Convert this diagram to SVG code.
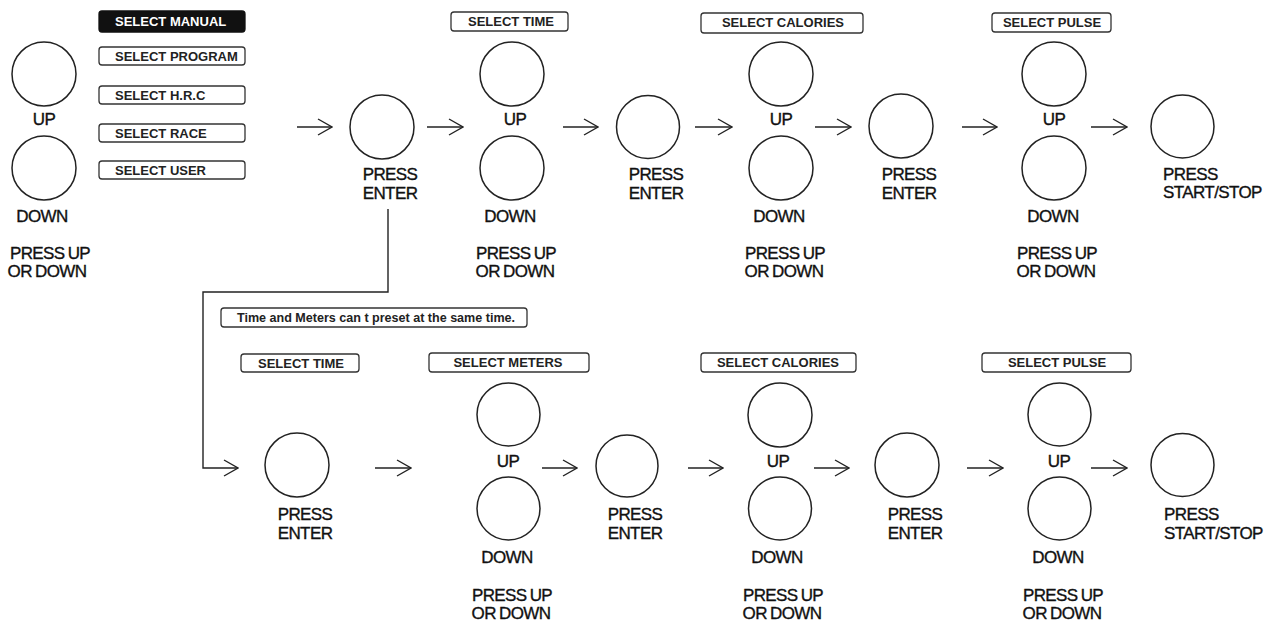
<svg xmlns="http://www.w3.org/2000/svg" width="1274" height="624" viewBox="0 0 1274 624">
<style>
.c{fill:none;stroke:#222;stroke-width:1.5}
.b{fill:#fff;stroke:#333;stroke-width:1.3}
.bk{fill:#111;stroke:#111;stroke-width:1.3}
.t{font-family:"Liberation Sans",Arial,sans-serif;font-size:17px;fill:#111;stroke:#111;stroke-width:0.35;letter-spacing:-0.6px;word-spacing:-1px;text-anchor:middle}
.ts{text-anchor:start}
.s{font-family:"Liberation Sans",Arial,sans-serif;font-size:13px;font-weight:bold;fill:#222;text-anchor:middle}
.sl{text-anchor:start}
.n{font-family:"Liberation Sans",Arial,sans-serif;font-size:12px;font-weight:bold;fill:#222}
.ln{fill:none;stroke:#222;stroke-width:1.4}
</style>
<defs>
<marker id="chev" viewBox="0 0 16 18" refX="15" refY="9" markerWidth="16" markerHeight="18" markerUnits="userSpaceOnUse" orient="auto">
<path d="M1,1 L15,9 L1,17" fill="none" stroke="#222" stroke-width="1.4"/>
</marker>
</defs>

<g id="connectors">
<line class="ln" x1="297" y1="127" x2="332" y2="127" marker-end="url(#chev)"/>
<line class="ln" x1="427" y1="127" x2="463" y2="127" marker-end="url(#chev)"/>
<line class="ln" x1="563" y1="127" x2="598" y2="127" marker-end="url(#chev)"/>
<line class="ln" x1="695" y1="127" x2="732" y2="127" marker-end="url(#chev)"/>
<line class="ln" x1="815" y1="127" x2="851" y2="127" marker-end="url(#chev)"/>
<line class="ln" x1="962" y1="127" x2="997" y2="127" marker-end="url(#chev)"/>
<line class="ln" x1="1091" y1="127" x2="1127" y2="127" marker-end="url(#chev)"/>
<path class="ln" d="M388,209 V292 H203 V468 H238" marker-end="url(#chev)"/>
<line class="ln" x1="375" y1="468" x2="411" y2="468" marker-end="url(#chev)"/>
<line class="ln" x1="542" y1="468" x2="577" y2="468" marker-end="url(#chev)"/>
<line class="ln" x1="688" y1="468" x2="723" y2="468" marker-end="url(#chev)"/>
<line class="ln" x1="814" y1="468" x2="849" y2="468" marker-end="url(#chev)"/>
<line class="ln" x1="967" y1="468" x2="1003" y2="468" marker-end="url(#chev)"/>
<line class="ln" x1="1091" y1="468" x2="1127" y2="468" marker-end="url(#chev)"/>
</g>

<g id="start-updown">
<circle class="c" cx="44" cy="74" r="32"/>
<circle class="c" cx="44" cy="168" r="32"/>
<text class="t" x="44" y="125">UP</text>
<text class="t" x="42" y="222">DOWN</text>
<text class="t" x="50" y="259">PRESS UP</text>
<text class="t" x="47" y="277">OR DOWN</text>
</g>

<g id="program-menu">
<rect class="bk" x="99" y="11" width="146" height="21" rx="3"/>
<text class="s sl" x="115" y="26" style="fill:#fff">SELECT MANUAL</text>
<rect class="b" x="99" y="47" width="146" height="18" rx="3"/>
<text class="s sl" x="115" y="61">SELECT PROGRAM</text>
<rect class="b" x="99" y="86" width="146" height="18" rx="3"/>
<text class="s sl" x="115" y="100">SELECT H.R.C</text>
<rect class="b" x="99" y="124" width="146" height="18" rx="3"/>
<text class="s sl" x="115" y="138">SELECT RACE</text>
<rect class="b" x="99" y="161" width="146" height="18" rx="3"/>
<text class="s sl" x="115" y="175">SELECT USER</text>
</g>

<g id="top-enter-1">
<circle class="c" cx="382" cy="127" r="32"/>
<text class="t" x="390" y="180">PRESS</text>
<text class="t" x="390" y="199">ENTER</text>
</g>

<g id="top-time">
<rect class="b" x="451" y="12" width="117" height="19" rx="3"/>
<text class="s" x="511" y="26">SELECT TIME</text>
<circle class="c" cx="512" cy="74" r="32"/>
<circle class="c" cx="512" cy="168" r="32"/>
<text class="t" x="515" y="125">UP</text>
<text class="t" x="510" y="222">DOWN</text>
<text class="t" x="516" y="259">PRESS UP</text>
<text class="t" x="515" y="277">OR DOWN</text>
</g>

<g id="top-enter-2">
<circle class="c" cx="648" cy="127" r="31.5"/>
<text class="t" x="656" y="180">PRESS</text>
<text class="t" x="656" y="199">ENTER</text>
</g>

<g id="top-calories">
<rect class="b" x="701" y="13" width="162" height="20" rx="3"/>
<text class="s" x="783" y="27">SELECT CALORIES</text>
<circle class="c" cx="781" cy="74" r="32"/>
<circle class="c" cx="781" cy="168" r="32"/>
<text class="t" x="781" y="125">UP</text>
<text class="t" x="779" y="222">DOWN</text>
<text class="t" x="785" y="259">PRESS UP</text>
<text class="t" x="784" y="277">OR DOWN</text>
</g>

<g id="top-enter-3">
<circle class="c" cx="901" cy="126" r="32"/>
<text class="t" x="909" y="180">PRESS</text>
<text class="t" x="909" y="199">ENTER</text>
</g>

<g id="top-pulse">
<rect class="b" x="992" y="13" width="119" height="19" rx="3"/>
<text class="s" x="1052" y="27">SELECT PULSE</text>
<circle class="c" cx="1054" cy="74" r="32"/>
<circle class="c" cx="1054" cy="168" r="32"/>
<text class="t" x="1054" y="125">UP</text>
<text class="t" x="1053" y="222">DOWN</text>
<text class="t" x="1057" y="259">PRESS UP</text>
<text class="t" x="1056" y="277">OR DOWN</text>
</g>

<g id="top-startstop">
<circle class="c" cx="1182.5" cy="126.5" r="31.5"/>
<text class="t ts" x="1163" y="180">PRESS</text>
<text class="t ts" x="1163" y="198">START/STOP</text>
</g>

<g id="note">
<rect class="b" x="221" y="308" width="306" height="19" rx="3"/>
<text class="n" x="237" y="322" textLength="278" lengthAdjust="spacingAndGlyphs">Time and Meters can t preset at the same time.</text>
</g>

<g id="bottom-time">
<rect class="b" x="241" y="354" width="118" height="18" rx="3"/>
<text class="s" x="301" y="368">SELECT TIME</text>
</g>

<g id="bottom-enter-1">
<circle class="c" cx="297" cy="465" r="32"/>
<text class="t" x="305" y="520">PRESS</text>
<text class="t" x="305" y="539">ENTER</text>
</g>

<g id="bottom-meters">
<rect class="b" x="429" y="353" width="160" height="19" rx="3"/>
<text class="s" x="508" y="367">SELECT METERS</text>
<circle class="c" cx="508.5" cy="414.5" r="31.5"/>
<circle class="c" cx="508.5" cy="508.5" r="31.5"/>
<text class="t" x="508" y="467">UP</text>
<text class="t" x="507" y="563">DOWN</text>
<text class="t" x="512" y="601">PRESS UP</text>
<text class="t" x="511" y="619">OR DOWN</text>
</g>

<g id="bottom-enter-2">
<circle class="c" cx="627" cy="466" r="31"/>
<text class="t" x="635" y="520">PRESS</text>
<text class="t" x="635" y="539">ENTER</text>
</g>

<g id="bottom-calories">
<rect class="b" x="701" y="353" width="155" height="19" rx="3"/>
<text class="s" x="778" y="367">SELECT CALORIES</text>
<circle class="c" cx="780" cy="415" r="32"/>
<circle class="c" cx="780" cy="508.5" r="31.5"/>
<text class="t" x="778" y="467">UP</text>
<text class="t" x="777" y="563">DOWN</text>
<text class="t" x="783" y="601">PRESS UP</text>
<text class="t" x="782" y="619">OR DOWN</text>
</g>

<g id="bottom-enter-3">
<circle class="c" cx="907" cy="465" r="32"/>
<text class="t" x="915" y="520">PRESS</text>
<text class="t" x="915" y="539">ENTER</text>
</g>

<g id="bottom-pulse">
<rect class="b" x="982" y="353" width="149" height="19" rx="3"/>
<text class="s" x="1057" y="367">SELECT PULSE</text>
<circle class="c" cx="1059.5" cy="414.5" r="31.5"/>
<circle class="c" cx="1059.5" cy="508.5" r="31.5"/>
<text class="t" x="1059" y="467">UP</text>
<text class="t" x="1058" y="563">DOWN</text>
<text class="t" x="1063" y="601">PRESS UP</text>
<text class="t" x="1062" y="619">OR DOWN</text>
</g>

<g id="bottom-startstop">
<circle class="c" cx="1182.5" cy="465" r="31.5"/>
<text class="t ts" x="1164" y="520">PRESS</text>
<text class="t ts" x="1164" y="539">START/STOP</text>
</g>
</svg>
